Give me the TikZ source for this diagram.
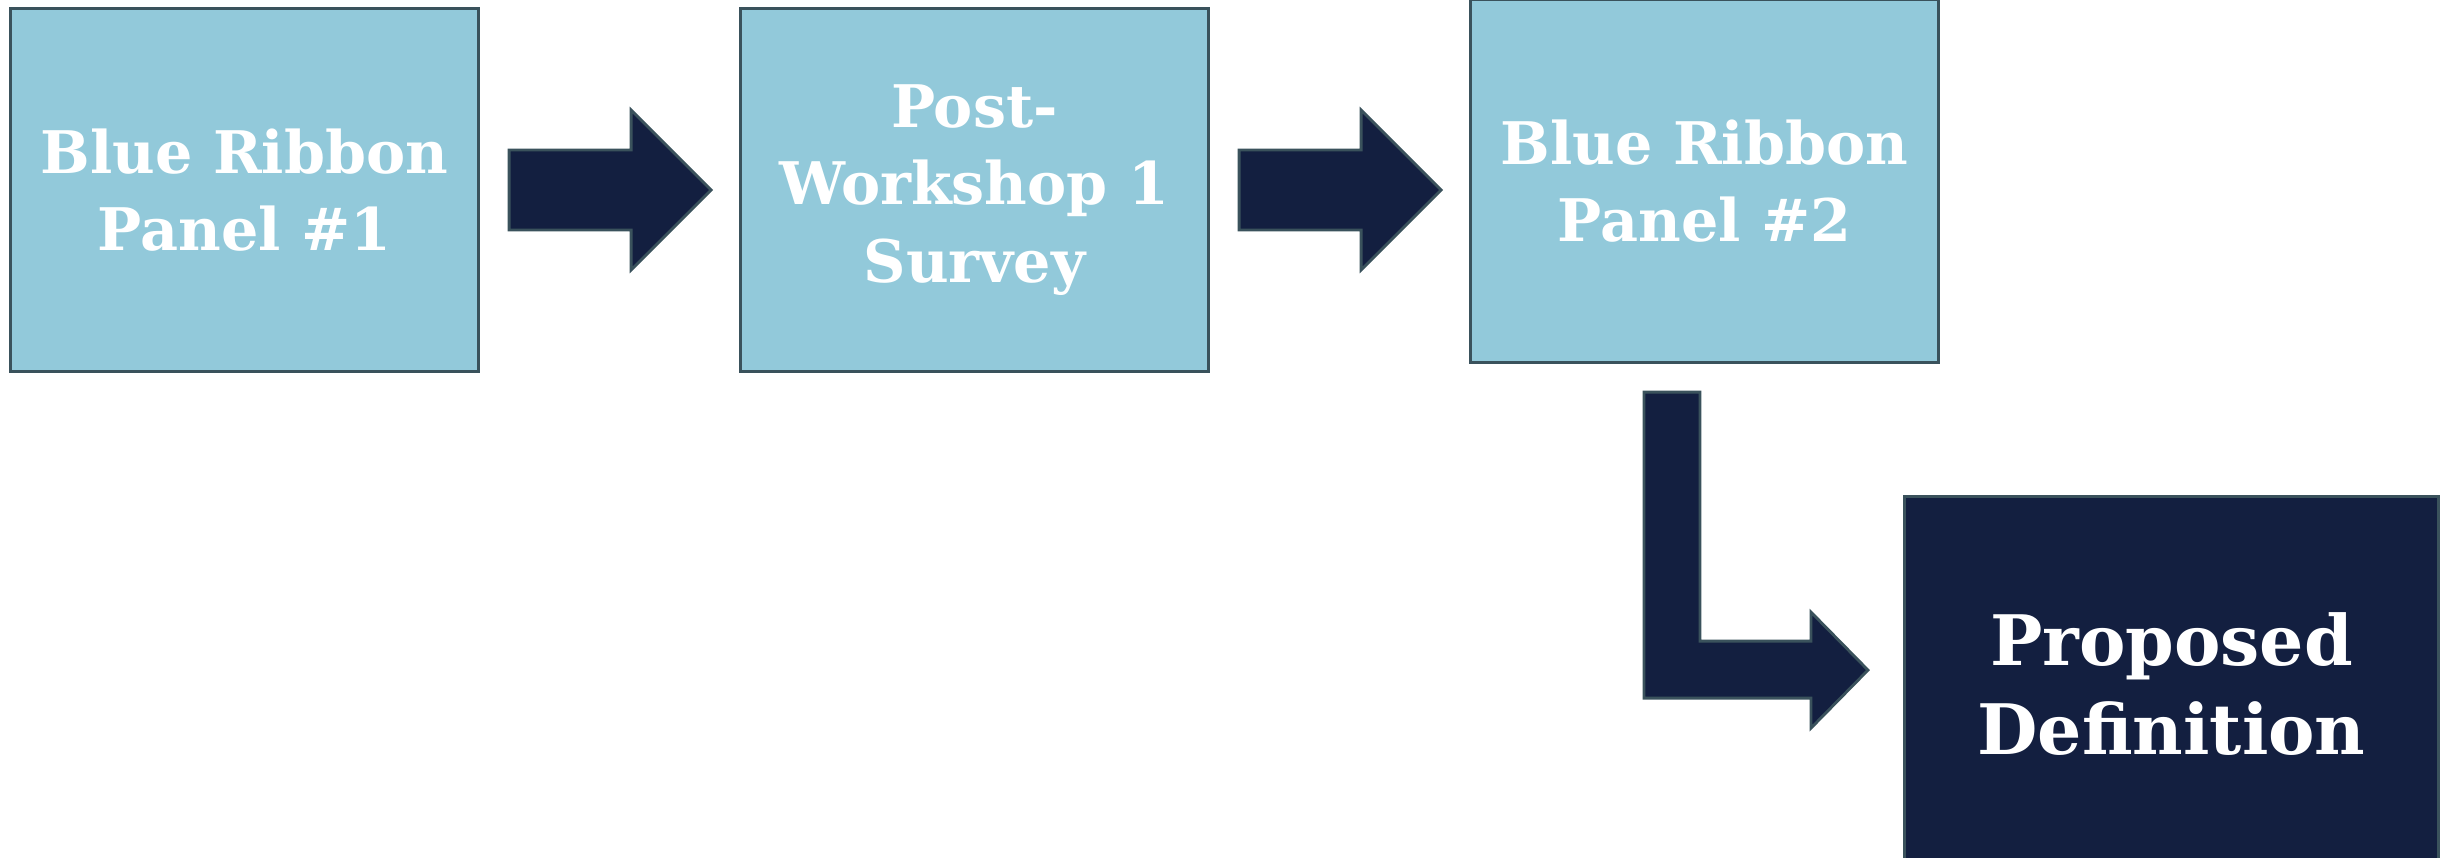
\documentclass[tikz,border=0pt]{standalone}
\usepackage{fontspec}
\setmainfont{DejaVu Serif}
\usetikzlibrary{calc}

\definecolor{panelblue}{RGB}{146,201,218}
\definecolor{navy}{RGB}{19,31,64}
\definecolor{edgegray}{RGB}{58,82,92}

\tikzset{
	stage/.style = {draw = edgegray, line width = 0.8pt, fill = panelblue, text = white,
		minimum width = 4.67cm, minimum height = 3.62cm, inner sep = 0pt, outer sep = 0pt,
		align = center, font = \bfseries\fontsize{16.7}{22}\selectfont},
	result/.style = {stage, fill = navy, minimum width = 5.33cm, minimum height = 3.74cm,
		font = \bfseries\fontsize{19.8}{25.5}\selectfont},
	bigarrow/.style = {draw = edgegray, line width = 0.8pt, fill = navy, line join = miter}
}

\begin{document}
\begin{tikzpicture}[x = 0.01cm, y = -0.01cm]
	\useasboundingbox (0,0) rectangle (2456,858);
	
	\node[stage] (panelA) at (244.5,190) {Blue Ribbon\\Panel \#1};
	\node[stage] (survey) at (974.5,190) {Post-\\Workshop 1\\Survey};
	\node[stage] (panelB) at (1704.5,181) {Blue Ribbon\\Panel \#2};
	\node[result] (proposal) at (2171.5,684) {Proposed\\Definition};
	
	% straight block arrows
	\draw[bigarrow] ($(panelA.east)+(31,-40)$) -- ++(122,0) -- ++(0,-40) -- ++(80,80)
		-- ++(-80,80) -- ++(0,-40) -- ++(-122,0) -- cycle;
	\draw[bigarrow] ($(survey.east)+(31,-40)$) -- ++(122,0) -- ++(0,-40) -- ++(80,80)
		-- ++(-80,80) -- ++(0,-40) -- ++(-122,0) -- cycle;
	
	% bent arrow down to the result
	\draw[bigarrow] ($(panelB.south)+(-60.5,30)$) -- ++(56,0) -- ++(0,249) -- ++(111,0)
		-- ++(0,-29) -- ++(57,58) -- ++(-57,58) -- ++(0,-30) -- ++(-167,0) -- cycle;
\end{tikzpicture}
\end{document}
